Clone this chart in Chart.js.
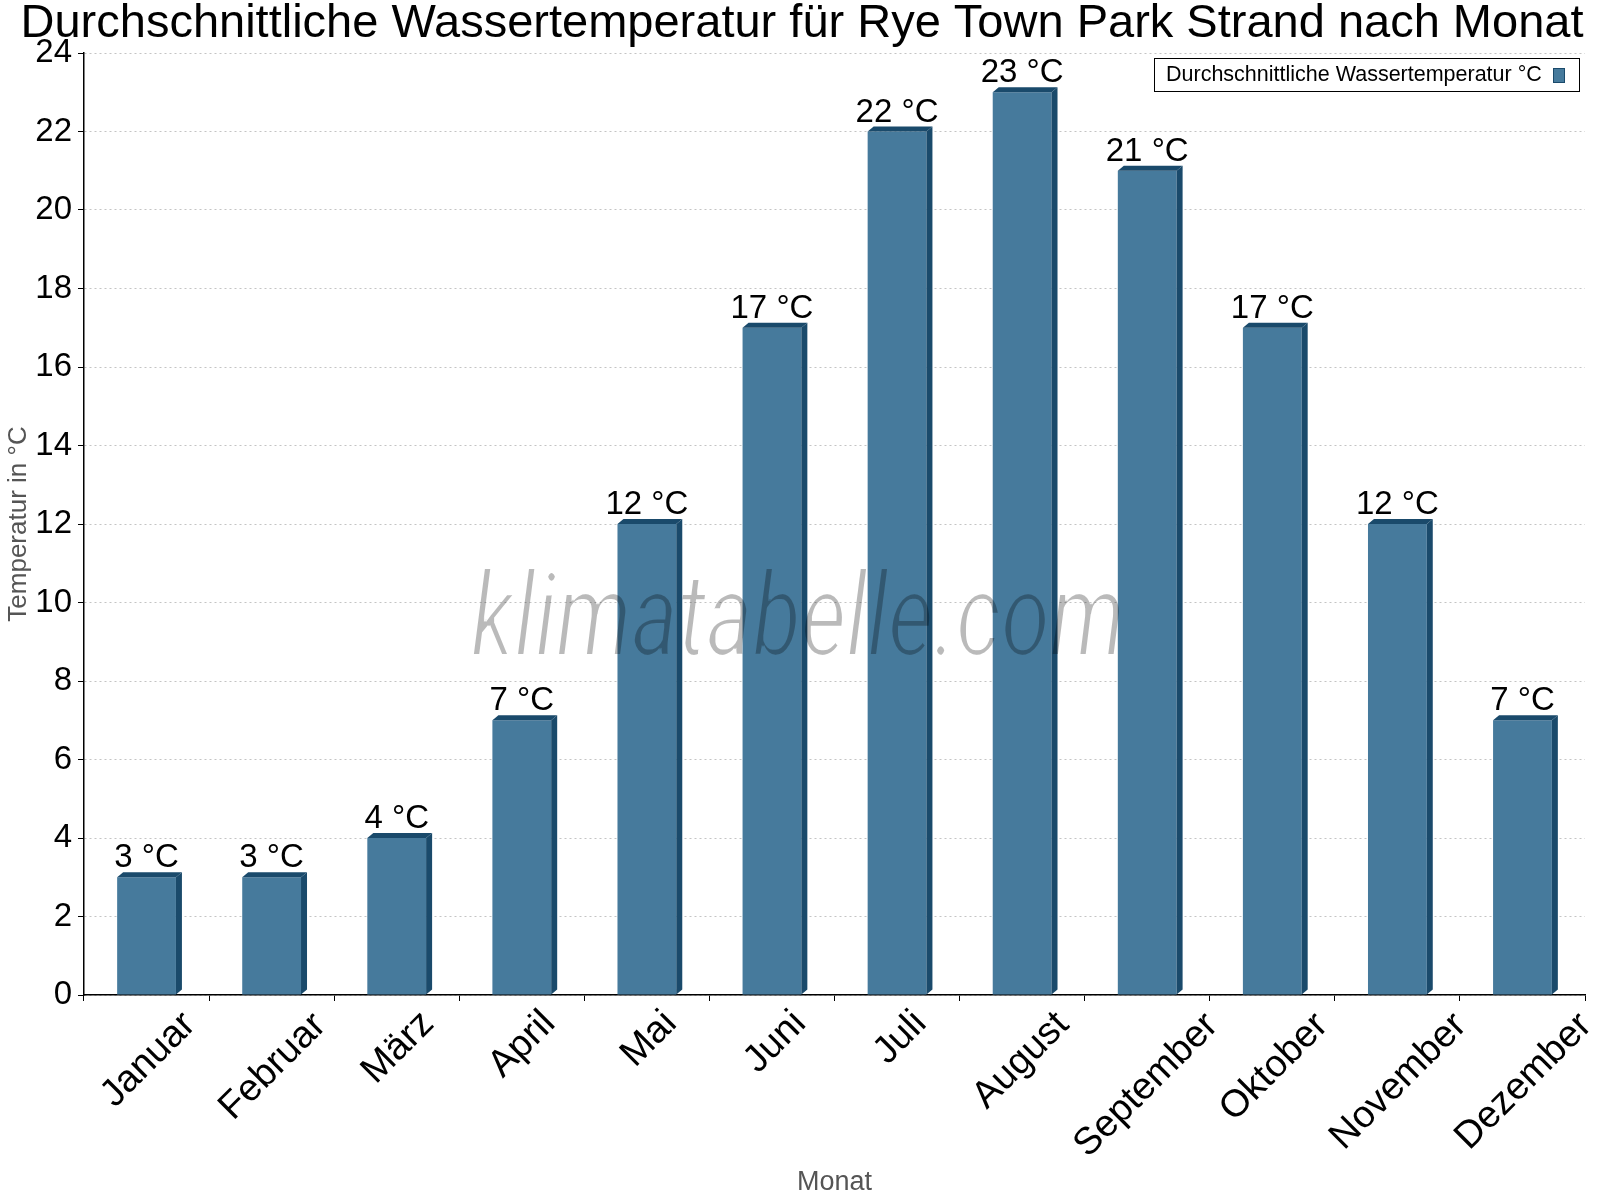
<!DOCTYPE html>
<html>
<head>
<meta charset="utf-8">
<script src="https://cdn.jsdelivr.net/npm/chart.js@4.4.1/dist/chart.umd.min.js"></script>
<style>
html,body{margin:0;padding:0;background:#fff;}
#wrap{width:1600px;height:1200px;}
</style>
</head>
<body>
<div id="wrap"><canvas id="c" width="1600" height="1200"></canvas></div>
<script>
const months = ["Januar","Februar","März","April","Mai","Juni","Juli","August","September","Oktober","November","Dezember"];
const waterTemp = [3,3,4,7,12,17,22,23,21,17,12,7];
const yTicks = [0,2,4,6,8,10,12,14,16,18,20,22,24];
const seriesLabel = "Durchschnittliche Wassertemperatur °C";
const chartTitle = "Durchschnittliche Wassertemperatur für Rye Town Park Strand nach Monat";
const yTitle = "Temperatur in °C";
const xTitle = "Monat";
const watermark = "klimatabelle.com";
const unit = "°C";

const FONT = "'Liberation Sans', Arial, sans-serif";
const FRONT = "rgb(70,122,156)";
const DARK = "rgb(26,74,107)";
const DX = 6, DY = 5;

function erode(alpha, w, h, rx, ry) {
  const out = new Uint8ClampedArray(alpha.length);
  for (let y = 0; y < h; y++) {
    for (let x = 0; x < w; x++) {
      let m = 255;
      for (let dy = -ry; dy <= ry; dy++) {
        const yy = y + dy;
        if (yy < 0 || yy >= h) { m = 0; break; }
        for (let dx = -rx; dx <= rx; dx++) {
          const xx = x + dx;
          if (xx < 0 || xx >= w) { m = 0; break; }
          const v = alpha[yy * w + xx];
          if (v < m) m = v;
        }
        if (m === 0) break;
      }
      out[y * w + x] = m;
    }
  }
  return out;
}

function makeWatermarkLayer(W, H) {
  const off = document.createElement('canvas');
  off.width = W; off.height = H;
  const g = off.getContext('2d');
  g.font = "italic 400 118px Roboto, " + FONT;
  const ww = g.measureText(watermark).width;
  const sx = 654 / ww;
  g.save();
  g.translate(798, 656);
  g.scale(sx, 1);
  g.textAlign = "center";
  g.textBaseline = "alphabetic";
  g.fillStyle = "#000";
  g.fillText(watermark, 0, 0);
  g.restore();
  const bx = 420, by = 520, bw = 760, bh = 170;
  const img = g.getImageData(bx, by, bw, bh);
  const d = img.data;
  let a = new Uint8ClampedArray(bw * bh);
  for (let i = 0; i < a.length; i++) a[i] = d[i * 4 + 3];
  a = erode(a, bw, bh, 1, 1);
  a = erode(a, bw, bh, 0, 1);
  for (let i = 0; i < a.length; i++) { d[i*4] = 0; d[i*4+1] = 0; d[i*4+2] = 0; d[i*4+3] = a[i]; }
  g.clearRect(0, 0, W, H);
  g.putImageData(img, bx, by);
  return off;
}
let WM_LAYER = null;

const extras = {
  id: 'extras',
  afterDatasetsDraw(chart) {
    const ctx = chart.ctx;
    const meta = chart.getDatasetMeta(0);
    // 3D faces
    meta.data.forEach(bar => {
      const p = bar.getProps(['x','y','base','width'], true);
      const l = p.x - p.width/2, r = p.x + p.width/2;
      ctx.save();
      ctx.fillStyle = DARK;
      ctx.beginPath();
      ctx.moveTo(l, p.y); ctx.lineTo(l+DX, p.y-DY); ctx.lineTo(r+DX, p.y-DY); ctx.lineTo(r, p.y); ctx.closePath();
      ctx.fill();
      ctx.beginPath();
      ctx.moveTo(r, p.y); ctx.lineTo(r+DX, p.y-DY); ctx.lineTo(r+DX, p.base-DY); ctx.lineTo(r, p.base); ctx.closePath();
      ctx.fill();
      ctx.restore();
    });
    // watermark
    if (!WM_LAYER) WM_LAYER = makeWatermarkLayer(chart.width, chart.height);
    ctx.save();
    ctx.globalAlpha = 0.27;
    ctx.drawImage(WM_LAYER, 0, 0);
    ctx.restore();
    // data labels
    ctx.save();
    ctx.font = "33px " + FONT;
    ctx.fillStyle = "#000";
    ctx.textAlign = "center";
    ctx.textBaseline = "alphabetic";
    meta.data.forEach((bar, i) => {
      const p = bar.getProps(['x','y'], true);
      ctx.fillText(waterTemp[i] + " " + unit, p.x, p.y - 10);
    });
    ctx.restore();
  },
  afterDraw(chart) {
    const ctx = chart.ctx;
    const xs = chart.scales.x;
    // title
    ctx.save();
    ctx.font = "47px " + FONT;
    ctx.fillStyle = "#000";
    ctx.textAlign = "center";
    ctx.textBaseline = "alphabetic";
    ctx.fillText(chartTitle, 802, 37);
    ctx.restore();
    // rotated x labels
    ctx.save();
    ctx.font = "38px " + FONT;
    ctx.fillStyle = "#000";
    ctx.textAlign = "center";
    ctx.textBaseline = "alphabetic";
    const a = -Math.PI/4, c = Math.cos(a), s = Math.sin(a);
    months.forEach((m, i) => {
      const cx = xs.getPixelForTick(i);
      const mt = ctx.measureText(m);
      const corners = [
        [-mt.actualBoundingBoxLeft, -mt.actualBoundingBoxAscent],
        [mt.actualBoundingBoxRight, -mt.actualBoundingBoxAscent],
        [-mt.actualBoundingBoxLeft, mt.actualBoundingBoxDescent],
        [mt.actualBoundingBoxRight, mt.actualBoundingBoxDescent]
      ].map(([x,y]) => [x*c - y*s, x*s + y*c]);
      const minX = Math.min(...corners.map(q=>q[0])), maxX = Math.max(...corners.map(q=>q[0]));
      const minY = Math.min(...corners.map(q=>q[1]));
      const tx = cx - (minX+maxX)/2;
      const ty = 1007 - minY;
      ctx.save();
      ctx.translate(tx, ty);
      ctx.rotate(a);
      ctx.fillText(m, 0, 0);
      ctx.restore();
    });
    ctx.restore();
    // legend
    ctx.save();
    ctx.fillStyle = "#fff";
    ctx.fillRect(1154.5, 58.5, 425, 33);
    ctx.strokeStyle = "#000";
    ctx.lineWidth = 1;
    ctx.strokeRect(1154.5, 58.5, 425, 33);
    ctx.font = "21.5px " + FONT;
    ctx.fillStyle = "#000";
    ctx.textAlign = "left";
    ctx.textBaseline = "middle";
    ctx.fillText(chart.data.datasets[0].label, 1166, 75);
    ctx.fillStyle = FRONT;
    ctx.fillRect(1553.5, 68.5, 11, 14);
    ctx.strokeStyle = DARK;
    ctx.strokeRect(1553.5, 68.5, 11, 14);
    ctx.restore();
  }
};

new Chart(document.getElementById('c'), {
  type: 'bar',
  data: {
    labels: months,
    datasets: [{
      label: seriesLabel,
      data: waterTemp,
      backgroundColor: FRONT,
      borderWidth: 0,
      barPercentage: 0.47,
      categoryPercentage: 1.0
    }]
  },
  options: {
    responsive: false,
    animation: false,
    devicePixelRatio: 1,
    layout: { padding: { left: 0, right: 15, top: 53, bottom: 0 } },
    plugins: {
      legend: { display: false },
      title: { display: false },
      tooltip: { enabled: false }
    },
    scales: {
      x: {
        type: 'category',
        offset: true,
        grid: { display: true, drawOnChartArea: false, drawTicks: true, tickLength: 6, tickColor: '#000', offset: true },
        border: { display: true, color: '#000', width: 1.5 },
        ticks: { display: false },
        title: { display: true, text: xTitle, color: '#555', font: { family: FONT, size: 27 }, padding: { top: 0, bottom: 1 } },
        afterFit(scale) { scale.height = 205; }
      },
      y: {
        min: 0, max: 24,
        afterBuildTicks(scale) { scale.ticks = yTicks.map(v => ({ value: v })); },
        grid: { color: '#c4c4c4', lineWidth: 1, drawTicks: true, tickLength: 6, tickColor: '#000' },
        border: { display: true, color: '#000', width: 1.5, dash: [2,3] },
        ticks: { color: '#000', font: { family: FONT, size: 33 }, padding: 6 },
        title: { display: true, text: yTitle, color: '#555', font: { family: FONT, size: 26 }, padding: { top: 3, bottom: 0 } },
        afterFit(scale) { scale.width = 84; }
      }
    }
  },
  plugins: [extras]
});
</script>
</body>
</html>
